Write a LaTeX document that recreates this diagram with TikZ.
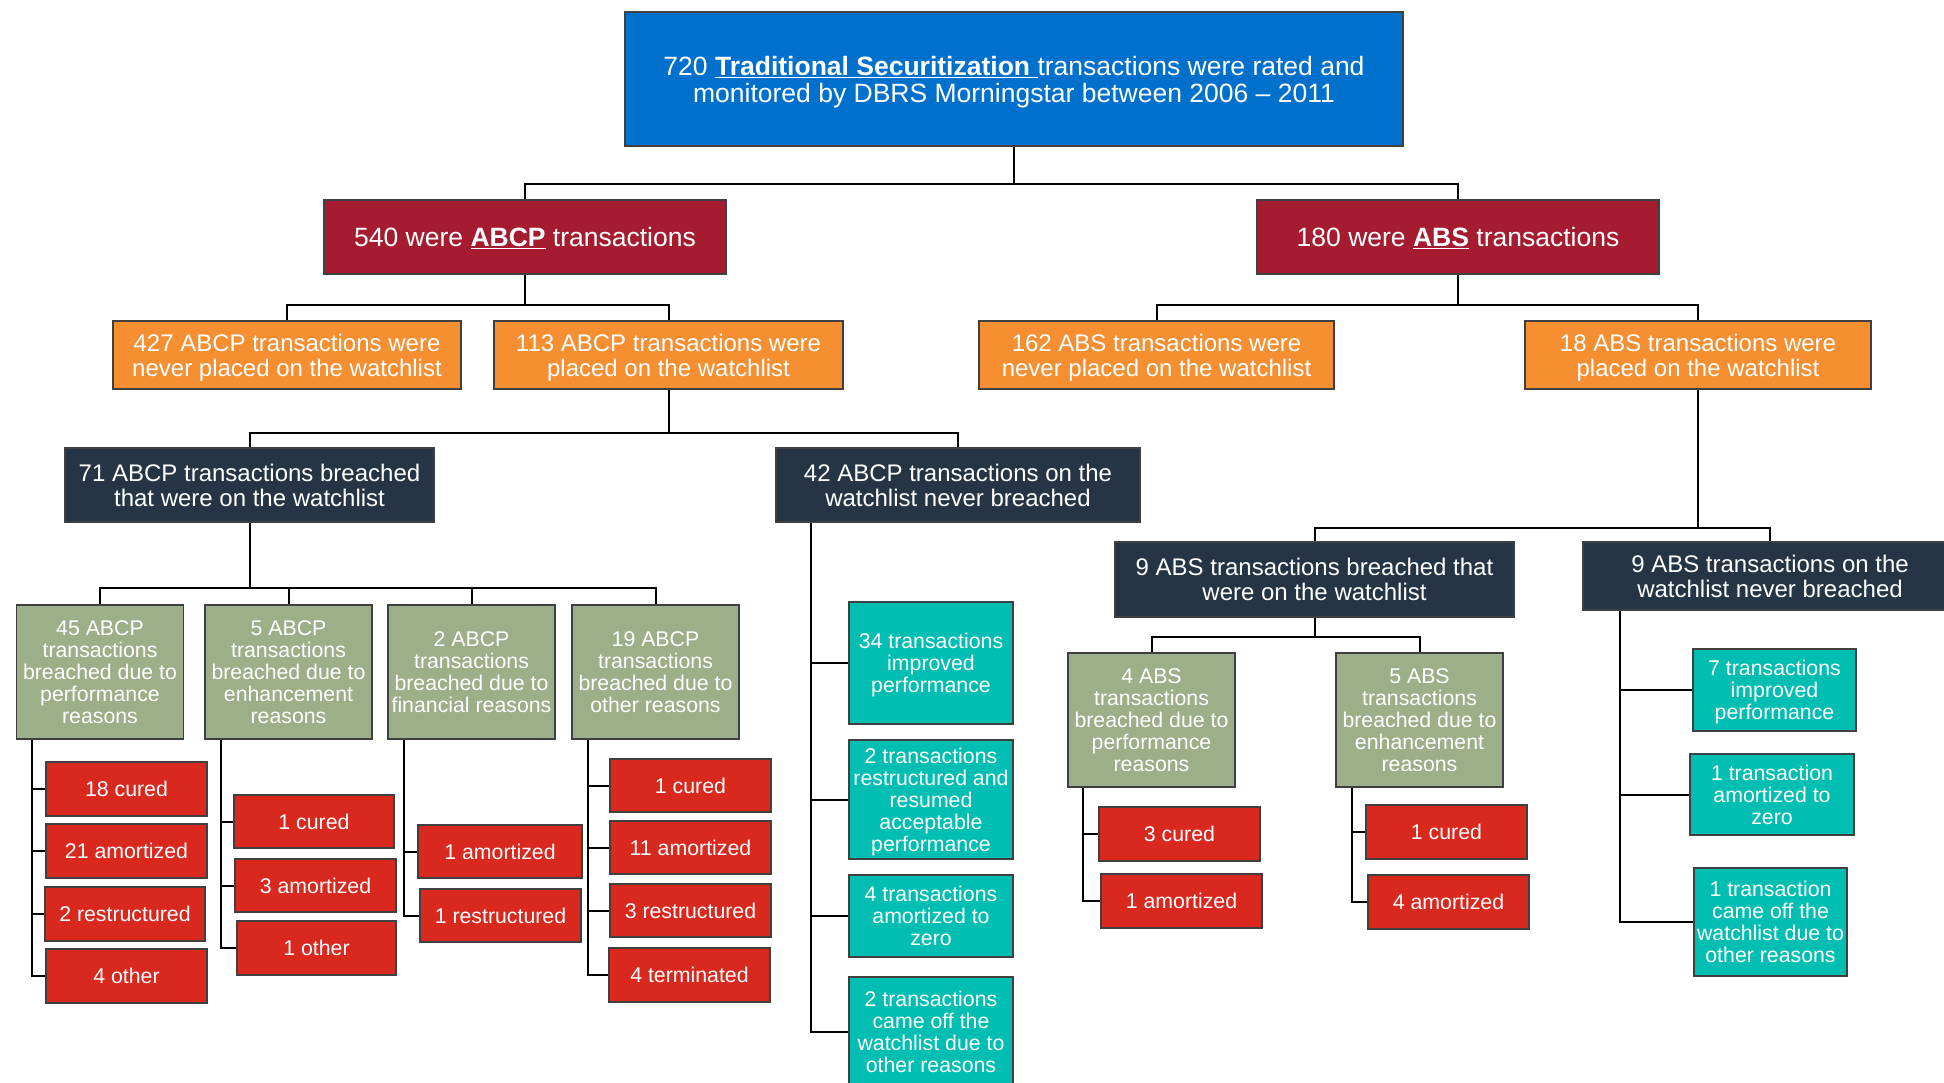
\documentclass[tikz,border=0pt]{standalone}
\usepackage{fontspec}
\setmainfont{Liberation Sans}
\usetikzlibrary{calc}
\definecolor{cblue}{RGB}{0,112,205}
\definecolor{cmaroon}{RGB}{165,27,48}
\definecolor{corange}{RGB}{245,143,49}
\definecolor{cnavy}{RGB}{37,53,69}
\definecolor{cgreen}{RGB}{157,175,137}
\definecolor{cred}{RGB}{217,40,30}
\definecolor{cteal}{RGB}{0,191,178}
\tikzset{
 box/.style={draw=black!75, line width=1.5pt, text=white, align=center, inner sep=0pt, text depth=0pt},
 topbox/.style={box, fill=cblue, font=\fontsize{26.5}{27}\selectfont, text depth=-4pt},
 lvlone/.style={box, fill=cmaroon, font=\fontsize{26.5}{28}\selectfont},
 obox/.style={box, fill=corange, font=\fontsize{24}{25}\selectfont},
 nbox/.style={box, fill=cnavy, font=\fontsize{24}{25}\selectfont},
 gbox/.style={box, fill=cgreen, font=\fontsize{21.3}{22}\selectfont},
 rbox/.style={box, fill=cred, font=\fontsize{21.3}{22}\selectfont},
 tbox/.style={box, fill=cteal, font=\fontsize{21.3}{22}\selectfont},
 conn/.style={draw=black, line width=2pt},
 wh/.style 2 args={minimum width=#1pt, minimum height=#2pt}
}
\begin{document}
\begin{tikzpicture}[x=1pt,y=-1pt]
\fill[white] (0,0) rectangle (1944,1083);
\useasboundingbox (0,0) rectangle (1944,1083);
\begin{scope}
\clip (0,0) rectangle (1944,1083);
% ---------- nodes ----------
\node[topbox, wh={778}{134}] (top) at (1014,79) {720 \underline{\textbf{Traditional Securitization}\ }transactions were rated and\\monitored by DBRS Morningstar between 2006 -- 2011};
\node[lvlone, wh={402}{74}] (abcp) at (525,237) {540 were \underline{\textbf{ABCP}} transactions};
\node[lvlone, wh={402}{74}] (abs) at (1458,237) {180 were \underline{\textbf{ABS}} transactions};
\node[obox, wh={348}{68}] (o427) at (287,355) {427 ABCP transactions were\\never placed on the watchlist};
\node[obox, wh={349}{68}] (o113) at (668.5,355) {113 ABCP transactions were\\placed on the watchlist};
\node[obox, wh={355}{68}] (o162) at (1156.5,355) {162 ABS transactions were\\never placed on the watchlist};
\node[obox, wh={346}{68}] (o18) at (1698,355) {18 ABS transactions were\\placed on the watchlist};
\node[nbox, wh={369}{74}] (n71) at (249.5,485) {71 ABCP transactions breached\\that were on the watchlist};
\node[nbox, wh={364}{74}] (n42) at (958,485) {42 ABCP transactions on the\\watchlist never breached};
\node[nbox, wh={399}{75}] (n9b) at (1314.5,579.5) {9 ABS transactions breached that\\were on the watchlist};
\node[nbox, wh={374}{68}] (n9n) at (1770,576) {9 ABS transactions on the\\watchlist never breached};
\node[gbox, wh={167}{134}] (g1) at (100,672) {45 ABCP\\transactions\\breached due to\\performance\\reasons};
\node[gbox, wh={167}{134}] (g2) at (288.5,672) {5 ABCP\\transactions\\breached due to\\enhancement\\reasons};
\node[gbox, wh={167}{134}] (g3) at (471.5,672) {2 ABCP\\transactions\\breached due to\\financial reasons};
\node[gbox, wh={167}{134}] (g4) at (655.5,672) {19 ABCP\\transactions\\breached due to\\other reasons};
\node[gbox, wh={167}{134}] (ga4) at (1151.5,720) {4 ABS\\transactions\\breached due to\\performance\\reasons};
\node[gbox, wh={167}{134}] (ga5) at (1419.5,720) {5 ABS\\transactions\\breached due to\\enhancement\\reasons};
% red
\node[rbox, wh={161}{54}] (r1a) at (126.5,789) {18 cured};
\node[rbox, wh={161}{54}] (r1b) at (126.5,851) {21 amortized};
\node[rbox, wh={160}{54}] (r1c) at (125,914) {2 restructured};
\node[rbox, wh={161}{54}] (r1d) at (126.5,976) {4 other};
\node[rbox, wh={160}{53}] (r2a) at (314,821.5) {1 cured};
\node[rbox, wh={161}{53}] (r2b) at (315.5,885.5) {3 amortized};
\node[rbox, wh={159}{54}] (r2c) at (316.5,948) {1 other};
\node[rbox, wh={164}{53}] (r3a) at (500,851.5) {1 amortized};
\node[rbox, wh={161}{53}] (r3b) at (500.5,915.5) {1 restructured};
\node[rbox, wh={161}{53}] (r4a) at (690.5,785.5) {1 cured};
\node[rbox, wh={161}{53}] (r4b) at (690.5,847.5) {11 amortized};
\node[rbox, wh={161}{53}] (r4c) at (690.5,910.5) {3 restructured};
\node[rbox, wh={161}{54}] (r4d) at (689.5,975) {4 terminated};
\node[rbox, wh={161}{54}] (ra1) at (1179.5,834) {3 cured};
\node[rbox, wh={161}{54}] (ra2) at (1181.5,901) {1 amortized};
\node[rbox, wh={161}{54}] (rb1) at (1446.5,832) {1 cured};
\node[rbox, wh={161}{54}] (rb2) at (1448.5,902) {4 amortized};
% teal
\node[tbox, wh={164}{122}] (t1) at (931,663) {34 transactions\\improved\\performance};
\node[tbox, wh={164}{119}] (t2) at (931,799.5) {2 transactions\\restructured and\\resumed\\acceptable\\performance};
\node[tbox, wh={164}{82}] (t3) at (931,916) {4 transactions\\amortized to\\zero};
\node[tbox, wh={164}{110}] (t4) at (931,1032) {2 transactions\\came off the\\watchlist due to\\other reasons};
\node[tbox, wh={163}{82}] (t5) at (1774.5,690) {7 transactions\\improved\\performance};
\node[tbox, wh={164}{81}] (t6) at (1772,794.5) {1 transaction\\amortized to\\zero};
\node[tbox, wh={153}{108}] (t7) at (1770.5,922) {1 transaction\\came off the\\watchlist due to\\other reasons};
% ---------- connectors ----------
\draw[conn] (top.south) -- ++(0,37) -| (abcp.north);
\draw[conn] (top.south) -- ++(0,37) -| (abs.north);
\draw[conn] (abcp.south) -- ++(0,30) -| (o427.north);
\draw[conn] (abcp.south) -- ++(0,30) -| (o113.north);
\draw[conn] (abs.south) -- ++(0,30) -| (o162.north);
\draw[conn] (abs.south) -- ++(0,30) -| (o18.north);
\draw[conn] (o113.south) -- ++(0,43) -| (n71.north);
\draw[conn] (o113.south) -- ++(0,43) -| (n42.north);
\draw[conn] (o18.south) -- ++(0,138) -| (n9b.north);
\draw[conn] (o18.south) -- ++(0,138) -| (n9n.north);
\foreach \g in {g1,g2,g3,g4}{\draw[conn] (n71.south) -- ++(0,65) -| (\g.north);}
\draw[conn] (n9b.south) -- ++(0,19) -| (ga4.north);
\draw[conn] (n9b.south) -- ++(0,19) -| (ga5.north);
\foreach \c in {r1a,r1b,r1c,r1d}{\draw[conn] ($(g1.south west)+(16.5,0)$) |- (\c.west);}
\foreach \c in {r2a,r2b,r2c}{\draw[conn] ($(g2.south west)+(17,0)$) |- (\c.west);}
\foreach \c in {r3a,r3b}{\draw[conn] ($(g3.south west)+(17,0)$) |- (\c.west);}
\foreach \c in {r4a,r4b,r4c,r4d}{\draw[conn] ($(g4.south west)+(17,0)$) |- (\c.west);}
\foreach \c in {ra1,ra2}{\draw[conn] ($(ga4.south west)+(16,0)$) |- (\c.west);}
\foreach \c in {rb1,rb2}{\draw[conn] ($(ga5.south west)+(17,0)$) |- (\c.west);}
\foreach \c in {t1,t2,t3,t4}{\draw[conn] ($(n42.south west)+(36,0)$) |- (\c.west);}
\foreach \c in {t5,t6,t7}{\draw[conn] ($(n9n.south west)+(38,0)$) |- (\c.west);}
\end{scope}
\end{tikzpicture}
\end{document}
